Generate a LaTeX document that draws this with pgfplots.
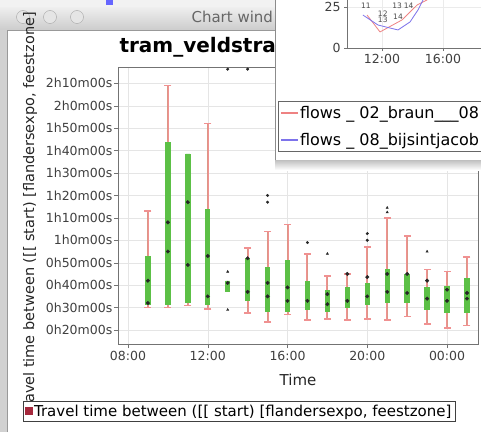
\documentclass[border=0pt]{standalone}
\usepackage{pgfplots}
\pgfplotsset{compat=1.18}
\usepgfplotslibrary{statistics}
\usepackage{fontspec}
\setmainfont{DejaVu Sans}

\definecolor{wpink}{RGB}{240,145,145}
\definecolor{bgreen}{RGB}{92,192,70}
\definecolor{lgred}{RGB}{165,40,60}
\definecolor{fpink}{RGB}{238,130,130}
\definecolor{fblue}{RGB}{125,115,235}

\pgfplotsset{
  tb/.style={fill=bgreen, draw=none, forget plot,
    boxplot/draw direction=y,
    boxplot/box extend=0.27,
    boxplot/every box/.style={draw=none, fill=bgreen},
    boxplot/every whisker/.style={draw=none},
    boxplot/every median/.style={draw=none}},
}
% position, lower whisker, lower quartile, median, upper quartile, upper whisker
\newcommand{\bx}[6]{\addplot[tb, boxplot prepared={draw position=#1,
  lower whisker=#2, lower quartile=#3, median=#4,
  upper quartile=#5, upper whisker=#6}] coordinates {};}

\begin{document}
\begin{tikzpicture}[x=1pt,y=1pt]
\path[use as bounding box] (0,0) rectangle (481,432);

% window chrome
\fill[white] (0,0) rectangle (481,432);
\fill[black!5] (0,424) rectangle (481,432);
\fill[blue!60] (106,427) rectangle (113,432);
\shade[top color=black!7, bottom color=black!20] (0,402) rectangle (481,424);
\draw[black!40] (0,402) -- (481,402);
\fill[black!18] (0,0) rectangle (7,402);
\draw[black!40] (7,0) -- (7,402);
\foreach \cx in {23,50,77} \draw[black!35, fill=black!10] (\cx,415) circle (6.5);
\node[anchor=west, text=black!60, font=\fontsize{15}{17}\selectfont] at (188,415) {Chart wind};
\node[anchor=base west, font=\bfseries\fontsize{20}{22}\selectfont] at (116,379) {tram\_veldstra};

\begin{axis}[
  scale only axis, width=360pt, height=277pt,
  at={(118pt,88pt)}, anchor=south west,
  xmin=7.4985, xmax=25.553, ymin=13.76, ymax=137.27,
  xtick={8,12,16,20,24}, xticklabels={08:00,12:00,16:00,20:00,00:00},
  ytick={20,30,...,130},
  yticklabels={0h20m00s,0h30m00s,0h40m00s,0h50m00s,1h0m00s,1h10m00s,1h20m00s,1h30m00s,1h40m00s,1h50m00s,2h0m00s,2h10m00s},
  tick pos=left, tick align=outside, major tick length=4pt,
  grid=major, major grid style={black!10},
  axis line style={black!55}, tick style={black!55},
  ticklabel style={font=\fontsize{12.5}{14}\selectfont, text=black!75},
  yticklabel style={inner sep=1.5pt},
  xlabel={Time},
  ylabel={Travel time between ([[ start) [flandersexpo, feestzone]},
  every axis x label/.style={at={(rel axis cs:0.5,-0.13)}, anchor=center,
    font=\fontsize{15}{17}\selectfont, text=black!85},
  every axis y label/.style={at={(rel axis cs:-0.244,0.47)}, rotate=90, anchor=center,
    font=\fontsize{14.5}{17}\selectfont, text=black!85},
  legend style={at={(rel axis cs:-0.2639,-0.2058)}, anchor=north west,
    draw=black!75, font=\fontsize{15}{17}\selectfont, inner sep=1.5pt},
]
\addlegendimage{legend image code/.code={\fill[lgred] (0pt,-3.5pt) rectangle (7pt,3.5pt);}}
\addlegendentry{Travel time between ([[ start) [flandersexpo, feestzone]}

% whiskers: lower whisker to upper whisker
\addplot[wpink, line width=2pt, unbounded coords=jump, forget plot] coordinates {
 (9,30) (9,73) (9,nan) (10,30) (10,129) (10,nan) (11,31) (11,98.5) (11,nan)
 (12,29.5) (12,112) (12,nan) (13,37) (13,42) (13,nan) (14,27.5) (14,56.5) (14,nan)
 (15,23.5) (15,64) (15,nan) (16,27) (16,67) (16,nan) (17,24.5) (17,54) (17,nan)
 (18,25) (18,44) (18,nan) (19,24.5) (19,45) (19,nan) (20,25) (20,57) (20,nan)
 (21,24.5) (21,70) (21,nan) (22,26) (22,62) (22,nan) (23,22.7) (23,47) (23,nan)
 (24,21) (24,46) (24,nan) (25,22) (25,52.5)};
% whisker caps
\addplot[only marks, mark=-, mark size=3.5pt, wpink, mark options={line width=1.6pt}, forget plot] coordinates {
 (9,30) (9,73) (10,30) (10,129) (11,31) (12,29.5) (12,112) (14,27.5) (14,56.5)
 (15,23.5) (15,64) (16,27) (16,67) (17,24.5) (17,54) (18,25) (18,44)
 (19,24.5) (19,45) (20,25) (20,57) (21,24.5) (21,70) (22,26) (22,62)
 (23,22.7) (23,47) (24,21) (24,46) (25,22) (25,52.5)};

\bx{9}{30}{31}{32}{53}{73}
\bx{10}{30}{31}{55}{104}{129}
\bx{11}{31}{32}{49}{98.5}{98.5}
\bx{12}{29.5}{31}{35}{74}{112}
\bx{13}{37}{37}{41}{42}{42}
\bx{14}{27.5}{33}{37}{52}{56.5}
\bx{15}{23.5}{28}{35}{48}{64}
\bx{16}{27}{28}{33}{51}{67}
\bx{17}{24.5}{29}{33}{42}{54}
\bx{18}{25}{28}{31.5}{38}{44}
\bx{19}{24.5}{30}{33}{39}{45}
\bx{20}{25}{31}{35}{41}{57}
\bx{21}{24.5}{32}{37}{47}{70}
\bx{22}{26}{32}{36.5}{45}{62}
\bx{23}{22.7}{29}{34}{39}{47}
\bx{24}{21}{27.5}{33}{39.6}{46}
\bx{25}{22}{27.5}{34}{43}{52.5}

% means and medians
\addplot[only marks, mark=*, mark size=1.8pt, black!85, forget plot] coordinates {
 (9,42) (9,32) (10,68) (10,55) (11,77) (11,49) (12,53) (12,35)
 (13,41) (14,52) (14,37) (15,41) (15,35) (16,39) (16,33)
 (17,33) (18,36) (18,31.5) (19,45) (19,33) (20,43.6) (20,35)
 (21,45) (21,37) (22,45) (22,36.5) (23,42) (23,34) (24,38) (24,33)
 (25,36.5) (25,34)};
% outliers
\addplot[only marks, mark=*, mark size=1.3pt, black!85, forget plot] coordinates {
 (13,136.3) (14,136.3) (17,59) (15,77) (15,80) (20,60) (20,63)};
\addplot[only marks, mark=triangle*, mark size=1.3pt, black!85, forget plot] coordinates {
 (13,46) (13,29) (18,54) (23,55) (21,72.5) (21,74.5)};
\end{axis}

% overlapping window
\shade[top color=black!25, bottom color=white] (275,262) rectangle (481,272);
\fill[white] (275,272) rectangle (481,432);
\draw[black!45] (275.5,272) -- (275.5,432);

\begin{axis}[
  scale only axis, width=153pt, height=68pt,
  at={(347pt,384pt)}, anchor=south west,
  xmin=9.705, xmax=19.74, ymin=0, ymax=41.46,
  xtick={12,16}, xticklabels={12:00,16:00}, ytick={0,25},
  /pgf/number format/assume math mode=true,
  tick pos=left, tick align=outside, major tick length=3pt,
  grid=major, major grid style={black!8},
  axis line style={black!55}, tick style={black!55},
  ticklabel style={font=\fontsize{12.5}{14}\selectfont, text=black!75},
  legend style={at={(rel axis cs:-0.451,-0.78)}, anchor=north west,
    draw=black!60, font=\fontsize{16}{18}\selectfont, row sep=9pt,
    inner sep=3pt, legend cell align=left},
]
\addplot[color=fpink, line width=0.8pt, mark=none,
  legend image code/.code={\fill[fpink] (0pt,-0.45pt) rectangle (16pt,0.45pt);}] coordinates {
 (11.02,20.1) (11.87,9.8) (13.31,17.1) (14.30,26.2) (14.95,29.3) (15.48,38.4)};
\addlegendentry{flows \_ 02\_braun\_\_\_08\hspace{40pt}}
\addplot[color=fblue, line width=0.8pt, mark=none,
  legend image code/.code={\fill[fblue] (0pt,-0.45pt) rectangle (16pt,0.45pt);}] coordinates {
 (10.75,20.1) (11.74,14.0) (13.05,11.0) (13.84,15.9) (14.36,23.2) (14.69,29.3) (15.15,38.4)};
\addlegendentry{flows \_ 08\_bijsintjacob\hspace{40pt}}
\node[font=\fontsize{7.5}{8}\selectfont, text=black!70] at (axis cs:10.95,26) {11};
\node[font=\fontsize{7.5}{8}\selectfont, text=black!70] at (axis cs:12.05,21) {12};
\node[font=\fontsize{7.5}{8}\selectfont, text=black!70] at (axis cs:12.05,17) {13};
\node[font=\fontsize{7.5}{8}\selectfont, text=black!70] at (axis cs:13.0,26) {13};
\node[font=\fontsize{7.5}{8}\selectfont, text=black!70] at (axis cs:13.05,19) {14};
\node[font=\fontsize{7.5}{8}\selectfont, text=black!70] at (axis cs:13.75,26) {14};
\end{axis}
\end{tikzpicture}
\end{document}
